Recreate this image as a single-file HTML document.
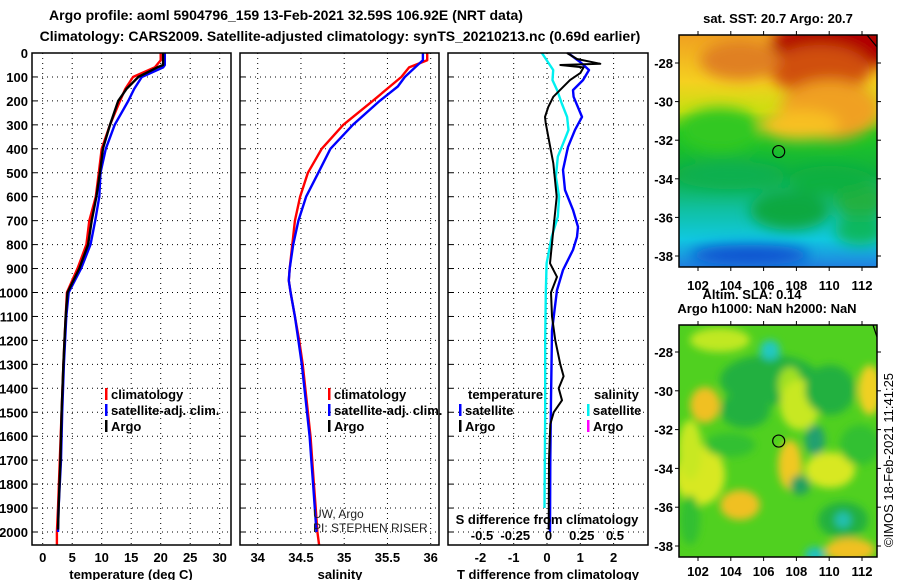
<!DOCTYPE html>
<html><head><meta charset="utf-8">
<style>
body{margin:0;background:#fff;}
svg{display:block;font-family:"Liberation Sans",sans-serif;}
.t{font-weight:bold;font-size:13px;fill:#000;}
.n{font-size:12px;fill:#222;}
.ti{font-weight:bold;font-size:14px;fill:#000;}
</style></head>
<body>
<svg id="c" width="900" height="580" viewBox="0 0 900 580">
<defs>
<filter id="bl" x="-20%" y="-20%" width="140%" height="140%"><feGaussianBlur stdDeviation="7"/></filter>
<filter id="bl2" x="-20%" y="-20%" width="140%" height="140%"><feGaussianBlur stdDeviation="4"/></filter>
<clipPath id="m1c"><rect x="679" y="35" width="198" height="232"/></clipPath>
<clipPath id="m2c"><rect x="679" y="325" width="198" height="232"/></clipPath>
<linearGradient id="sstg" x1="0" y1="0" x2="0" y2="1">
<stop offset="0" stop-color="#f0a020"/><stop offset="0.2" stop-color="#f5d020"/><stop offset="0.33" stop-color="#c8e010"/><stop offset="0.42" stop-color="#20c820"/><stop offset="0.6" stop-color="#10b040"/><stop offset="0.75" stop-color="#10c0a0"/><stop offset="0.88" stop-color="#10c8e0"/><stop offset="1" stop-color="#2080e0"/>
</linearGradient>
</defs>
<text class="ti" x="286" y="20" text-anchor="middle">Argo profile: aoml 5904796_159 13-Feb-2021 32.59S 106.92E (NRT data)</text>
<text class="ti" x="340" y="41" text-anchor="middle">Climatology: CARS2009. Satellite-adjusted climatology: synTS_20210213.nc (0.69d earlier)</text>
<g id="g"></g>
</svg>
<script>
// depth axis (shared)
const depthTicks=[0,100,200,300,400,500,600,700,800,900,1000,1100,1200,1300,1400,1500,1600,1700,1800,1900,2000];
// temperature panel
const tempTicks=[0,5,10,15,20,25,30];
const tClimDepth=[0,30,60,100,150,200,300,400,500,600,700,800,900,1000,1100,1200,1300,1500,1700,1900,2000,2054];
const tClim=[20.0,20.0,19.0,15.3,14.0,13.1,11.4,10.0,9.5,9.0,7.9,7.4,5.9,4.1,3.9,3.7,3.5,3.2,2.9,2.6,2.4,2.4];
const tSatDepth=[0,50,60,100,150,200,300,400,500,600,700,800,900,1000,1100,1200,1300,1500,1700,1900,2000];
const tSat=[20.7,20.7,20.4,16.8,15.5,14.5,12.2,10.7,9.8,9.6,8.9,8.1,6.5,4.4,4.0,3.8,3.6,3.3,3.1,2.7,2.6];
const tArgoDepth=[0,50,60,100,150,200,300,400,500,600,700,800,900,1000,1100,1200,1300,1500,1700,1900,1990];
const tArgo=[20.4,20.4,19.4,16.2,14.2,12.8,11.4,10.2,9.7,9.1,8.3,7.7,6.2,4.2,3.9,3.7,3.5,3.2,3.0,2.7,2.6];
// salinity panel
const salTicks=[34,34.5,35,35.5,36];
const sClimDepth=[0,30,60,100,200,300,400,500,600,700,800,900,950,1000,1100,1200,1300,1400,1500,1600,1700,1800,1900,2000,2054];
const sClim=[35.96,35.96,35.75,35.66,35.33,34.99,34.74,34.58,34.49,34.43,34.40,34.37,34.36,34.38,34.43,34.48,34.52,34.55,34.58,34.61,34.63,34.65,34.67,34.69,34.71];
const sSatDepth=[0,30,60,100,140,200,300,400,500,600,700,800,900,950,1000,1100,1200,1300,1400,1500,1600,1700,1800,1900,2000];
const sSat=[35.91,35.91,35.82,35.70,35.62,35.41,35.10,34.84,34.70,34.56,34.47,34.41,34.37,34.36,34.38,34.43,34.47,34.51,34.54,34.57,34.60,34.62,34.64,34.66,34.68];
// difference panel
const dTTicks=[-2,-1,0,1,2];
const dSTicks=[-0.5,-0.25,0,0.25,0.5];
const dTArgoDepth=[0,25,45,50,60,84,113,155,183,225,267,292,350,460,600,740,878,935,1000,1100,1200,1300,1350,1400,1450,1500,1550,1700,1990];
const dTArgo=[0.6,0.9,1.6,0.4,1.1,1.0,0.69,0.39,0.19,0.04,-0.06,-0.04,0.04,0.19,0.29,0.19,0.09,0.3,0.12,0.15,0.25,0.4,0.5,0.35,0.45,0.2,0.1,0.06,0.05];
const dTSatDepth=[0,38,71,113,155,183,267,321,392,488,572,655,726,768,822,906,990,1160,1450,1700,2000];
const dTSat=[0.63,1.0,1.26,1.08,0.78,0.8,1.05,0.84,0.63,0.48,0.54,0.78,0.93,0.9,0.78,0.48,0.3,0.15,0.12,0.1,0.09];
const dSSatDepth=[0,71,113,155,211,267,321,350,433,517,600,684,768,878,1000,1200,1500,1900];
const dSSat=[-0.05,0.035,0.03,0.065,0.1,0.14,0.15,0.13,0.07,0.056,0.08,0.07,0.024,-0.014,-0.02,-0.025,-0.025,-0.03];
// maps
const lonTicks=[102,104,106,108,110,112];
const latTicks=[-28,-30,-32,-34,-36,-38];
const floatLon=106.92, floatLat=-32.59;

const NS='http://www.w3.org/2000/svg';
const G=document.getElementById('g');
function mk(tag,attrs,parent){const e=document.createElementNS(NS,tag);for(const k in attrs)e.setAttribute(k,attrs[k]);(parent||G).appendChild(e);return e;}
function txt(x,y,s,cls,anchor,parent){const e=mk('text',{x:x,y:y,class:cls||'t','text-anchor':anchor||'middle'},parent);e.textContent=s;return e;}
const yD=d=>53+0.2395*d;
const PT=0,PB=545;
function panel(x0,x1,name){
  const g=mk('g',{});
  
  
  return g;
}
function frame(x0,x1,g){mk('rect',{x:x0,y:53,width:x1-x0,height:PB-53,fill:'none',stroke:'#000','stroke-width':1.5},g);}
function hgrid(x0,x1,g){depthTicks.forEach(d=>{mk('line',{x1:x0,x2:x1,y1:yD(d),y2:yD(d),stroke:'#000','stroke-dasharray':'1,4','stroke-width':1},g);mk('line',{x1:x0,x2:x0+5,y1:yD(d),y2:yD(d),stroke:'#000'},g);});}
function vgrid(xs,g){xs.forEach(x=>mk('line',{x1:x,x2:x,y1:53,y2:PB,stroke:'#000','stroke-dasharray':'1,4'},g));}
function line(ds,vs,xf,color,g,name,w){
  const p=ds.map((d,i)=>xf(vs[i]).toFixed(1)+','+yD(d).toFixed(1)).join(' ');
  const e=mk('polyline',{points:p,fill:'none',stroke:color,'stroke-width':w||2.4,'stroke-linejoin':'round'},g);
  
  
}
function leg(x,y,color,label,g,name){
  const gg=mk('g',{},g);
  
  
  mk('rect',{x:x,y:y-11,width:2.5,height:12,fill:color},gg);
  txt(x+6,y,label,'t','start',gg);
}
const ylab=mk('g',{});


depthTicks.forEach(d=>txt(28,yD(d)+5,String(d),'t','end',ylab));

// Panel 1
const xT=v=>42.7+5.9*v;
const p1=panel(32,231,'temperature-panel');
hgrid(32,231,p1);vgrid(tempTicks.map(xT),p1);
line(tClimDepth,tClim,xT,'#f00',p1,'temp-climatology-line');
line(tSatDepth,tSat,xT,'#00f',p1,'temp-satellite-line');
line(tArgoDepth,tArgo,xT,'#000',p1,'temp-argo-line');
frame(32,231,p1);
tempTicks.forEach(v=>txt(xT(v),562,String(v),'t','middle',p1));
txt(131,579,'temperature (deg C)','t','middle',p1);
leg(105,399,'#f00','climatology',p1,'legend-climatology');
leg(105,415,'#00f','satellite-adj. clim.',p1,'legend-satellite-adj');
leg(105,431,'#000','Argo',p1,'legend-argo');

// Panel 2
const xS=v=>257.7+86.5*(v-34);
const p2=panel(240,439,'salinity-panel');
hgrid(240,439,p2);vgrid(salTicks.map(xS),p2);
line(sClimDepth,sClim,xS,'#f00',p2,'sal-climatology-line');
line(sSatDepth,sSat,xS,'#00f',p2,'sal-satellite-line');
frame(240,439,p2);
salTicks.forEach(v=>txt(xS(v),562,String(v),'t','middle',p2));
txt(340,579,'salinity','t','middle',p2);
leg(328,399,'#f00','climatology',p2,'legend-climatology-2');
leg(328,415,'#00f','satellite-adj. clim.',p2,'legend-satellite-adj-2');
leg(328,431,'#000','Argo',p2,'legend-argo-2');
const cr=txt(313,518,'UW, Argo','n','start',p2);


const cr2=txt(313,532,'PI: STEPHEN RISER','n','start',p2);



// Panel 3
const xDT=v=>547+33.3*v;
const xDS=v=>548.5+133*v;
const p3=panel(448,648,'difference-panel');
hgrid(448,648,p3);vgrid(dTTicks.map(xDT),p3);
line(dSSatDepth,dSSat,xDS,'#00f0f0',p3,'sal-diff-satellite-line');
line(dTSatDepth,dTSat,xDT,'#00f',p3,'temp-diff-satellite-line');
line(dTArgoDepth,dTArgo,xDT,'#000',p3,'temp-diff-argo-line',2);
frame(448,648,p3);
dTTicks.forEach(v=>txt(xDT(v),562,String(v),'t','middle',p3));
txt(548,579,'T difference from climatology','t','middle',p3);
txt(547,524,'S difference from climatology','t','middle',p3);
dSTicks.forEach(v=>txt(xDS(v),540,String(v),'t','middle',p3));
txt(468,399,'temperature','t','start',p3);
txt(594,399,'salinity','t','start',p3);
leg(459,415,'#00f','satellite',p3,'legend-temp-satellite');
leg(459,431,'#000','Argo',p3,'legend-temp-argo');
leg(587,415,'#00f0f0','satellite',p3,'legend-sal-satellite');
leg(587,431,'#f0f','Argo',p3,'legend-sal-argo');

// Maps
function mapAxes(y0,y1,lat28,lat38,g,lonY){
  const xL=v=>698+(v-102)*16.4;
  const yL=v=>lat28+(v+28)/(-10)*(lat38-lat28);
  mk('rect',{x:679,y:y0,width:198,height:y1-y0,fill:'none',stroke:'#000','stroke-width':1.5},g);
  lonTicks.forEach(v=>{mk('line',{x1:xL(v),x2:xL(v),y1:y0-4,y2:y0,stroke:'#000'},g);mk('line',{x1:xL(v),x2:xL(v),y1:y1,y2:y1+4,stroke:'#000'},g);txt(xL(v),lonY,String(v),'t','middle',g);});
  latTicks.forEach(v=>{mk('line',{x1:675,x2:679,y1:yL(v),y2:yL(v),stroke:'#000'},g);mk('line',{x1:877,x2:881,y1:yL(v),y2:yL(v),stroke:'#000'},g);txt(673,yL(v)+5,String(v),'t','end',g);});
  const c=mk('circle',{cx:xL(floatLon),cy:yL(floatLat),r:6,fill:'none',stroke:'#000','stroke-width':1.2},g);
  
  
}
const m1=mk('g',{});


txt(778,23,'sat. SST: 20.7 Argo: 20.7','t','middle',m1);
const m1i=mk('g',{'clip-path':'url(#m1c)'},m1);
mk('rect',{x:679,y:35,width:198,height:232,fill:'url(#sstg)'},m1i);
const bl1=mk('g',{filter:'url(#bl)'},m1i);
[[840,45,70,25,'#b00000'],[820,70,50,25,'#d05010'],[740,60,40,20,'#e08020'],[830,110,50,30,'#f0a020'],[800,125,40,15,'#f8c020'],[720,130,40,22,'#30c820'],[860,200,25,20,'#20b040'],[730,175,55,14,'#10b050'],[830,180,40,14,'#10b040'],[790,210,40,20,'#10a840'],[750,255,60,10,'#1050d0'],[860,230,25,15,'#10b860']].forEach(a=>mk('ellipse',{cx:a[0],cy:a[1],rx:a[2],ry:a[3],fill:a[4]},bl1));
mk('path',{d:'M867 35 L877 47',stroke:'#000','stroke-width':1.2},m1);
mapAxes(35,267,63,256,m1,290);
txt(752,299,'Altim. SLA: 0.14','t','middle',m1);

const m2=mk('g',{});


txt(767,313,'Argo h1000: NaN h2000: NaN','t','middle',m2);
const m2i=mk('g',{'clip-path':'url(#m2c)'},m2);
mk('rect',{x:679,y:325,width:198,height:232,fill:'#50d020'},m2i);
const bl2=mk('g',{filter:'url(#bl2)'},m2i);
[[720,340,30,12,'#c0e820'],[770,380,50,25,'#20b040'],[770,350,10,10,'#20c8c0'],[705,405,15,18,'#f0c020'],[745,410,25,18,'#20b040'],[790,385,12,18,'#a0e020'],[800,405,20,25,'#c8e820'],[870,390,12,25,'#f0d020'],[830,390,25,25,'#20b040'],[815,440,10,15,'#20a070'],[790,465,12,25,'#f0c820'],[700,475,25,30,'#d8e820'],[740,505,20,15,'#f0c020'],[830,470,25,18,'#d8e820'],[800,485,10,10,'#20a060'],[843,520,25,18,'#20b040'],[843,520,8,8,'#20c0b0'],[850,550,25,12,'#f0c020'],[815,555,10,8,'#20c0c0'],[690,450,12,30,'#c8e820'],[730,445,25,12,'#30c030'],[860,445,20,20,'#30c030'],[690,520,10,25,'#30c030']].forEach(a=>mk('ellipse',{cx:a[0],cy:a[1],rx:a[2],ry:a[3],fill:a[4]},bl2));
mk('path',{d:'M873 325 L877 337',stroke:'#000','stroke-width':1.2},m2);
mapAxes(325,557,352,546,m2,576);
const im=txt(893,460,'©IMOS 18-Feb-2021 11:41:25','n','middle',m2);
im.setAttribute('transform','rotate(-90 893 460)');
im.setAttribute('style','font-size:13px;fill:#000');


</script>
</body></html>
